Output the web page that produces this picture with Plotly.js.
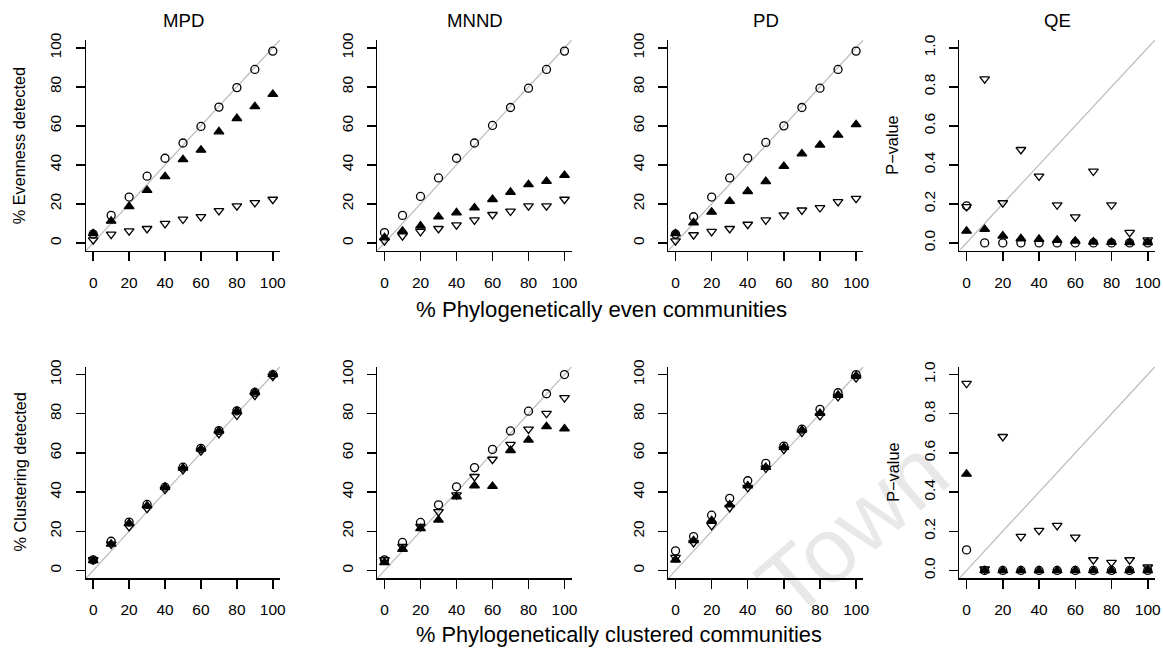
<!DOCTYPE html>
<html>
<head>
<meta charset="utf-8">
<script src="https://cdn.plot.ly/plotly-3.0.1.min.js"></script>
<style>
  html, body { margin: 0; padding: 0; background: #ffffff; }
  #chart { width: 1163px; height: 648px; }
</style>
</head>
<body>
<div id="chart"></div>
<script>
// ---------------- data ----------------
const xValues = [0, 10, 20, 30, 40, 50, 60, 70, 80, 90, 100];
const xTicks = [0, 20, 40, 60, 80, 100];
const pctTicks = [0, 20, 40, 60, 80, 100];
const pTicks = [0, 0.2, 0.4, 0.6, 0.8, 1.0];
const panelTitles = ["MPD", "MNND", "PD", "QE"];
const yTitleEven = "% Evenness detected";
const yTitleClust = "% Clustering detected";
const yTitleP = "P\u2212value";
const xTitleEven = "% Phylogenetically even communities";
const xTitleClust = "% Phylogenetically clustered communities";
const watermark = "Town";

// Top row: evenness
const mpdEvenCircle  = [4.5, 14.1, 23.5, 34.2, 43.4, 51.2, 59.7, 69.6, 79.6, 88.9, 98.3];
const mpdEvenTriUp   = [4.8, 11.2, 18.7, 27.0, 34.0, 42.7, 47.6, 57.0, 63.8, 69.9, 76.2];
const mpdEvenTriDown = [1.5, 4.4, 6.1, 7.3, 9.9, 12.1, 13.4, 16.5, 18.9, 20.6, 22.3];

const mnndEvenCircle  = [5.3, 14.1, 23.8, 33.3, 43.4, 51.2, 60.2, 69.4, 79.3, 88.9, 98.3];
const mnndEvenTriUp   = [2.7, 6.1, 8.7, 13.4, 15.5, 18.0, 22.3, 26.0, 29.9, 31.6, 34.7];
const mnndEvenTriDown = [1.0, 3.6, 5.8, 7.3, 9.2, 11.7, 14.5, 16.2, 18.9, 18.9, 22.3];

const pdEvenCircle  = [4.5, 13.4, 23.5, 33.3, 43.5, 51.5, 60.0, 69.4, 79.3, 88.9, 98.3];
const pdEvenTriUp   = [4.8, 10.4, 15.8, 21.3, 26.4, 31.5, 39.3, 45.7, 50.2, 55.3, 60.7];
const pdEvenTriDown = [1.0, 4.1, 5.8, 7.3, 9.5, 11.7, 14.3, 16.8, 18.0, 21.1, 22.8];

const qeEvenCircle  = [0.19, 0.0, 0.0, 0.0, 0.0, 0.0, 0.0, 0.0, 0.0, 0.0, 0.0];
const qeEvenTriUp   = [0.061, 0.07, 0.036, 0.022, 0.019, 0.014, 0.01, 0.005, 0.003, 0.002, 0.002];
const qeEvenTriDown = [0.185, 0.84, 0.205, 0.478, 0.342, 0.194, 0.133, 0.367, 0.194, 0.053, 0.015];

// Bottom row: clustering
const mpdClustCircle  = [5.4, 14.9, 24.7, 33.7, 42.5, 52.7, 62.3, 71.4, 81.5, 90.9, 100.0];
const mpdClustTriUp   = [5.1, 13.5, 24.0, 33.0, 42.5, 52.3, 62.0, 71.2, 81.3, 90.9, 100.0];
const mpdClustTriDown = [5.4, 13.4, 22.3, 31.6, 41.3, 51.4, 61.0, 69.8, 79.2, 89.4, 99.0];

const mnndClustCircle  = [5.4, 14.3, 24.5, 33.5, 42.7, 52.5, 61.8, 71.2, 81.3, 90.2, 100.0];
const mnndClustTriUp   = [4.1, 10.9, 21.4, 25.8, 37.7, 43.3, 43.0, 61.3, 66.6, 73.5, 72.3];
const mnndClustTriDown = [5.4, 12.2, 22.4, 30.0, 38.5, 47.9, 56.7, 64.3, 72.1, 80.1, 88.1];

const pdClustCircle  = [10.0, 17.3, 28.2, 36.8, 45.8, 54.7, 63.5, 72.1, 82.2, 90.7, 100.0];
const pdClustTriUp   = [5.4, 15.3, 25.5, 33.5, 43.2, 52.7, 62.9, 71.7, 80.2, 89.5, 99.3];
const pdClustTriDown = [6.6, 14.2, 22.9, 32.1, 42.3, 52.2, 61.8, 70.5, 79.0, 88.7, 98.3];

const qeClustCircle  = [0.105, 0, 0, 0, 0, 0, 0, 0, 0, 0, 0];
const qeClustTriUp   = [0.492, 0, 0, 0, 0, 0, 0, 0, 0, 0, 0];
const qeClustTriDown = [0.954, 0.007, 0.683, 0.173, 0.204, 0.229, 0.17, 0.054, 0.041, 0.054, 0.017];

// ---------------- layout helpers ----------------
const W = 1163, H = 648;
const fx = v => v / W;
const fy = v => 1 - v / H;
const FONT = "Liberation Sans, Arial, Helvetica, sans-serif";

const colPx = [[86, 280], [377.3, 571.7], [668.3, 863.3], [959.3, 1155]];
const rowPx = [[40, 250.7], [366.7, 578.3]];
const pctRange = [-4, 104];
const pRange = [-0.04, 1.04];
const xRange = [-4, 104];

const panels = [
  [mpdEvenCircle, mpdEvenTriUp, mpdEvenTriDown],
  [mnndEvenCircle, mnndEvenTriUp, mnndEvenTriDown],
  [pdEvenCircle, pdEvenTriUp, pdEvenTriDown],
  [qeEvenCircle, qeEvenTriUp, qeEvenTriDown],
  [mpdClustCircle, mpdClustTriUp, mpdClustTriDown],
  [mnndClustCircle, mnndClustTriUp, mnndClustTriDown],
  [pdClustCircle, pdClustTriUp, pdClustTriDown],
  [qeClustCircle, qeClustTriUp, qeClustTriDown]
];

const traces = [];
const layout = {
  width: W, height: H,
  margin: {l: 0, r: 0, t: 0, b: 0, pad: 0},
  paper_bgcolor: "#ffffff",
  plot_bgcolor: "rgba(0,0,0,0)",
  showlegend: false,
  font: {family: FONT, color: "#000000", size: 15.5},
  annotations: []
};

panels.forEach((series, i) => {
  const row = Math.floor(i / 4), col = i % 4;
  const n = i + 1;
  const xa = n === 1 ? "x" : "x" + n;
  const ya = n === 1 ? "y" : "y" + n;
  const isP = col === 3;
  const yr = isP ? pRange : pctRange;
  const slope = (yr[1] - yr[0]) / (xRange[1] - xRange[0]);

  // 1:1 reference line across the plot region
  traces.push({
    type: "scatter", mode: "lines", xaxis: xa, yaxis: ya,
    x: xRange.slice(),
    y: xRange.map(v => yr[0] + (v - xRange[0]) * slope),
    line: {color: "#bebebe", width: 1.3},
    hoverinfo: "skip"
  });
  const styles = [
    {symbol: "circle-open", size: 8, color: "#000000"},
    {symbol: "triangle-up", size: 8.5, color: "#000000"},
    {symbol: "triangle-down-open", size: 8.5, color: "#000000"}
  ];
  series.forEach((vals, k) => {
    traces.push({
      type: "scatter", mode: "markers", xaxis: xa, yaxis: ya,
      x: xValues, y: vals, cliponaxis: false,
      marker: {symbol: styles[k].symbol, size: styles[k].size, color: styles[k].color,
               line: {color: "#000000", width: 1.3}}
    });
  });

  const xKey = n === 1 ? "xaxis" : "xaxis" + n;
  const yKey = n === 1 ? "yaxis" : "yaxis" + n;
  const common = {
    showline: true, linecolor: "#000000", linewidth: 1.5,
    ticks: "outside", ticklen: 9, tickwidth: 1.5, tickcolor: "#000000",
    showgrid: false, zeroline: false, mirror: false, fixedrange: true,
    tickfont: {family: FONT, size: 15.5, color: "#000000"},
    ticklabelstandoff: 8
  };
  layout[xKey] = Object.assign({}, common, {
    domain: [fx(colPx[col][0]), fx(colPx[col][1])],
    range: xRange, tickmode: "array", tickvals: xTicks, ticktext: xTicks.map(String),
    anchor: ya
  });
  layout[yKey] = Object.assign({}, common, {
    domain: [fy(rowPx[row][1]), fy(rowPx[row][0])],
    range: yr, tickmode: "array",
    tickvals: isP ? pTicks : pctTicks,
    ticktext: isP ? pTicks.map(v => v.toFixed(1)) : pctTicks.map(String),
    tickangle: -90,
    anchor: xa
  });

  if (row === 0) {
    layout.annotations.push({
      xref: "paper", yref: "paper",
      x: fx((colPx[col][0] + colPx[col][1]) / 2), y: fy(20),
      xanchor: "center", yanchor: "middle", showarrow: false,
      text: panelTitles[col], font: {family: FONT, size: 18.6, color: "#000000"}
    });
  }
  let yt = null;
  if (col === 0) yt = row === 0 ? yTitleEven : yTitleClust;
  if (col === 3) yt = yTitleP;
  if (yt) {
    layout.annotations.push({
      xref: "paper", yref: "paper",
      x: fx(colPx[col][0] - 67), y: fy((rowPx[row][0] + rowPx[row][1]) / 2),
      xanchor: "center", yanchor: "middle", showarrow: false, textangle: -90,
      text: yt, font: {family: FONT, size: 16.3, color: "#000000"}
    });
  }
});

layout.annotations.push({
  xref: "paper", yref: "paper", x: fx(413.5), y: fy(309),
  xanchor: "left", yanchor: "middle", showarrow: false,
  text: xTitleEven, font: {family: FONT, size: 22.2, color: "#000000"}
});
layout.annotations.push({
  xref: "paper", yref: "paper", x: fx(413.5), y: fy(634),
  xanchor: "left", yanchor: "middle", showarrow: false,
  text: xTitleClust, font: {family: FONT, size: 21.8, color: "#000000"}
});
layout.annotations.push({
  xref: "paper", yref: "paper", x: fx(852), y: fy(528),
  xanchor: "center", yanchor: "middle", showarrow: false, textangle: -41,
  text: watermark, font: {family: FONT, size: 92, color: "rgba(0,0,0,0.09)"}
});

Plotly.newPlot("chart", traces, layout, {displayModeBar: false, staticPlot: true});
</script>
</body>
</html>
